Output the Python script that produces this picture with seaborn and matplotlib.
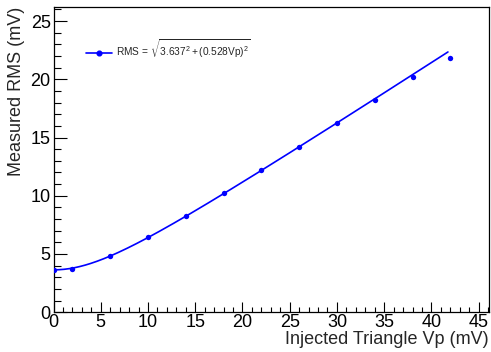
import numpy as np
import pandas as pd
import matplotlib
matplotlib.use("Agg")
import matplotlib.pyplot as plt
import seaborn as sns
from matplotlib.lines import Line2D
from matplotlib.ticker import MultipleLocator

# Data
vp = [0, 2, 6, 10, 14, 18, 22, 26, 30, 34, 38, 42]
rms = [3.62, 3.72, 4.83, 6.43, 8.23, 10.2, 12.18, 14.2, 16.22, 18.23, 20.2, 21.83]

# Fit parameters shown in the legend
fit_a = 3.637
fit_b = 0.528
fit_xmax = 41.75

sns.set_theme(style="white")
plt.rcParams["font.family"] = ["Liberation Sans", "DejaVu Sans"]
plt.rcParams["mathtext.fontset"] = "custom"
plt.rcParams["mathtext.rm"] = "Liberation Sans"
plt.rcParams["mathtext.it"] = "Liberation Sans:italic"

fig = plt.figure(figsize=(4.91, 3.52), dpi=100)
ax = fig.add_axes([0.109, 0.113, 0.887, 0.867])

fx = np.linspace(0, fit_xmax, 300)
fy = np.sqrt(fit_a**2 + (fit_b * fx) ** 2)
df_fit = pd.DataFrame({"x": fx, "y": fy})
df = pd.DataFrame({"x": vp, "y": rms})

sns.lineplot(data=df_fit, x="x", y="y", ax=ax, color="#0000ff", lw=1.2, legend=False)
sns.scatterplot(data=df, x="x", y="y", ax=ax, color="#0000ff", s=15,
                edgecolor="#0000ff", linewidth=0, legend=False, zorder=3)

ax.set_xlim(0, 46.1)
ax.set_ylim(0, 26.2)
ax.xaxis.set_major_locator(MultipleLocator(5))
ax.xaxis.set_minor_locator(MultipleLocator(1))
ax.yaxis.set_major_locator(MultipleLocator(5))
ax.yaxis.set_minor_locator(MultipleLocator(1))
ax.tick_params(axis="both", which="both", direction="in", top=False, right=False,
               labelsize=13, colors="black")
ax.tick_params(axis="x", which="major", length=7.5, width=0.8, pad=1)
ax.tick_params(axis="x", which="minor", length=3.8, width=0.8)
ax.tick_params(axis="y", which="major", length=9.5, width=0.8, pad=2)
ax.tick_params(axis="y", which="minor", length=5, width=0.8)
ax.tick_params(axis="both", which="both", bottom=True, left=True)

for s in ax.spines.values():
    s.set_color("black")
    s.set_linewidth(0.9)

ax.set_xlabel("Injected Triangle Vp (mV)", fontsize=13, ha="right", x=1.0, labelpad=0)
ax.set_ylabel("Measured RMS (mV)", fontsize=13, ha="right", y=1.0, labelpad=4)

handle = Line2D([0], [0], color="#0000ff", lw=1.2, marker="o", markersize=3.4)
ax.legend([handle], [r"RMS = $\sqrt{3.637^{2} + (0.528\mathrm{Vp})^{2}}$"],
          loc="center left", bbox_to_anchor=(0.065, 0.862), frameon=False,
          fontsize=7.3, handlelength=2.6, handletextpad=0.4, borderaxespad=0)

fig.savefig("out.png", dpi=100)
